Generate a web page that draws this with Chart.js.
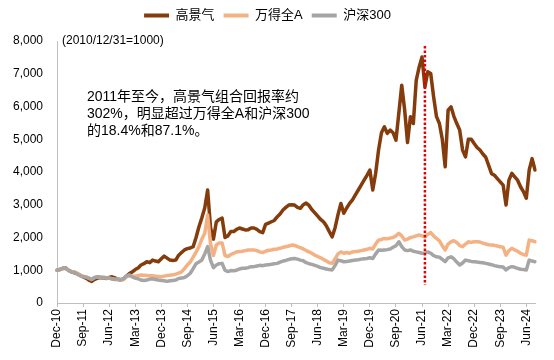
<!DOCTYPE html>
<html><head><meta charset="utf-8">
<script src="https://cdn.jsdelivr.net/npm/chart.js@4/dist/chart.umd.min.js"></script>
<style>html,body{margin:0;padding:0;background:#fff}#wrap{width:554px;height:360px}</style>
</head><body><div id="wrap"><canvas id="c" width="554" height="360"></canvas></div>
<script>
// Monthly categories, Dec-10 .. Sep-24
const MONTH_NAMES = ['Jan','Feb','Mar','Apr','May','Jun','Jul','Aug','Sep','Oct','Nov','Dec'];
const firstYear = 2010, firstMonthIdx = 11, monthCount = 166;
const categories = [];
for (let i = 0; i < monthCount; i++) {
  const k = firstMonthIdx + i;
  categories.push(MONTH_NAMES[k % 12] + '-' + String((firstYear + Math.floor(k / 12)) % 100).padStart(2, '0'));
}
const tickLabels = ['Dec-10','Sep-11','Jun-12','Mar-13','Dec-13','Sep-14','Jun-15','Mar-16','Dec-16','Sep-17','Jun-18','Mar-19','Dec-19','Sep-20','Jun-21','Mar-22','Dec-22','Sep-23','Jun-24'];
const seriesNames = ['高景气','万得全A','沪深300'];

const highProsperity = [
 1000,
 1020,1060,1070,1000,950,920,900,850,800,760,700,660,
 720,760,780,760,750,780,800,770,720,700,740,820,
 900,950,1020,1070,1160,1200,1260,1230,1310,1280,1260,1350,
 1430,1370,1310,1300,1310,1460,1540,1620,1660,1680,1720,2000,
 2330,2600,2900,3450,2300,1950,2480,2550,2590,2000,2050,2180,
 2180,2250,2290,2260,2230,2240,2290,2290,2250,2180,2150,2400,
 2440,2480,2520,2630,2720,2840,2920,2990,3000,2990,2920,2890,
 3000,3050,2980,2850,2750,2650,2550,2480,2350,2180,2020,2300,
 2700,3040,2740,2900,3040,3150,3300,3450,3600,3750,3900,4060,
 3450,3960,4670,5200,5380,5180,5280,5200,4970,5800,6650,5900,
 4900,5690,5480,6800,7200,7510,6600,7060,7010,6300,5690,5480,
 5000,4160,5890,5990,5700,5480,5280,4670,4460,5000,5000,4870,
 4750,4670,4550,4450,4200,3950,3900,3800,3700,3600,2990,3750,
 3960,3850,3750,3550,3400,3200,4060,4410,4060
];
const windAllA = [
 1000,
 1020,1060,1060,1000,960,950,900,850,820,800,760,720,
 780,800,790,770,760,760,740,720,720,700,720,800,
 830,820,820,840,855,850,840,830,830,820,810,800,
 820,840,850,860,880,910,950,1050,1160,1250,1400,1550,
 1720,1950,2130,2690,1800,1450,1770,1830,1830,1450,1420,1480,
 1520,1560,1570,1580,1600,1620,1620,1620,1600,1560,1540,1580,
 1610,1620,1640,1650,1670,1700,1720,1740,1770,1760,1720,1690,
 1650,1600,1560,1520,1460,1420,1380,1330,1280,1230,1210,1350,
 1500,1560,1520,1540,1520,1560,1570,1580,1600,1620,1640,1670,
 1650,1800,1920,1940,1970,1960,1980,2000,2050,2130,2050,1920,
 1950,2000,2020,2050,2080,2050,2020,2100,2150,2050,1970,1900,
 1750,1620,1800,1870,1900,1850,1750,1720,1800,1870,1850,1870,
 1870,1860,1830,1800,1780,1770,1760,1740,1720,1700,1460,1600,
 1670,1620,1580,1520,1480,1460,1920,1900,1870
];
const csi300 = [
 1000,
 1030,1060,1050,990,950,940,880,830,800,790,760,720,
 780,800,790,790,770,760,730,720,740,720,740,830,
 860,800,760,740,700,690,700,730,740,720,700,690,
 680,660,680,690,700,750,760,780,830,910,1050,1200,
 1250,1310,1500,1720,1300,1080,1160,1200,1210,1000,960,990,
 985,1000,1040,1060,1060,1080,1110,1110,1130,1150,1140,1160,
 1170,1180,1200,1210,1250,1280,1300,1330,1350,1360,1340,1310,
 1290,1230,1200,1180,1150,1120,1080,1060,1040,1020,1010,1150,
 1310,1290,1260,1270,1280,1300,1310,1320,1340,1350,1360,1380,
 1360,1500,1620,1610,1620,1630,1650,1700,1750,1870,1720,1620,
 1600,1620,1580,1560,1540,1520,1530,1560,1520,1450,1410,1400,
 1330,1260,1380,1410,1350,1250,1160,1220,1310,1290,1270,1260,
 1250,1240,1230,1210,1190,1170,1140,1120,1110,1100,1010,1080,
 1110,1090,1060,1030,1020,1010,1310,1280,1260
];
const yMin = 0, yMax = 8000, yStep = 1000;
const baseNote = '(2010/12/31=1000)';
const noteLines = ['2011年至今，高景气组合回报率约','302%，明显超过万得全A和沪深300','的18.4%和87.1%。'];
const markerMonth = 'Jul-21';
const markerTopValue = 7850, markerBottomValue = 550;

const colors = ['#843C0C', '#F4B183', '#A5A5A5'];
const FONT = "'Liberation Sans', Arial, 'Noto Sans CJK SC', sans-serif";
Chart.defaults.font.family = FONT;
Chart.defaults.color = '#000';

const annotate = {
  id: 'annotate',
  afterDatasetsDraw(chart) {
    const {ctx, chartArea, scales: {x, y}} = chart;
    ctx.save();
    // red dotted marker
    const mx = x.getPixelForValue(categories.indexOf(markerMonth));
    ctx.strokeStyle = '#E60000';
    ctx.lineWidth = 2.5;
    ctx.setLineDash([2.5, 2]);
    ctx.beginPath();
    ctx.moveTo(mx, y.getPixelForValue(markerTopValue));
    ctx.lineTo(mx, y.getPixelForValue(markerBottomValue));
    ctx.stroke();
    ctx.setLineDash([]);
    // notes
    ctx.fillStyle = '#000';
    ctx.textBaseline = 'middle';
    ctx.textAlign = 'left';
    ctx.font = '12px ' + FONT;
    ctx.fillText(baseNote, chartArea.left + 5, y.getPixelForValue(yMax));
    ctx.font = '14px ' + FONT;
    noteLines.forEach((t, i) => ctx.fillText(t, chartArea.left + 30, chartArea.top + 56 + i * 17));
    ctx.restore();
  }
};

new Chart(document.getElementById('c'), {
  type: 'line',
  data: {
    labels: categories,
    datasets: [
      {label: seriesNames[0], data: highProsperity, borderColor: colors[0], backgroundColor: colors[0], order: 3},
      {label: seriesNames[1], data: windAllA, borderColor: colors[1], backgroundColor: colors[1], order: 2},
      {label: seriesNames[2], data: csi300, borderColor: colors[2], backgroundColor: colors[2], order: 1}
    ]
  },
  options: {
    responsive: false,
    animation: false,
    devicePixelRatio: 1,
    elements: {
      point: {radius: 0, hoverRadius: 0},
      line: {borderWidth: 3.5, tension: 0, borderJoinStyle: 'round', borderCapStyle: 'round'}
    },
    layout: {padding: {top: 0, left: 0, right: 19, bottom: 0}},
    plugins: {
      legend: {
        position: 'top',
        labels: {
          boxWidth: 25, boxHeight: 4, padding: 9,
          font: {size: 13},
          color: '#000',
          sort: (a, b) => a.datasetIndex - b.datasetIndex,
          generateLabels(chart) {
            return chart.data.datasets.map((d, i) => ({
              text: d.label, fillStyle: d.borderColor, strokeStyle: d.borderColor,
              lineWidth: 0, hidden: false, datasetIndex: i, fontColor: '#000'
            }));
          }
        }
      },
      subtitle: {display: true, text: '', weight: 500, padding: 0, font: {size: 9, lineHeight: 1}},
      title: {display: false},
      tooltip: {enabled: false}
    },
    scales: {
      x: {
        type: 'category',
        offset: false,
        grid: {display: true, drawOnChartArea: false, drawTicks: true, tickLength: 4, color: '#BFBFBF'},
        border: {display: true, color: '#BFBFBF', width: 1},
        ticks: {
          autoSkip: false, maxRotation: 90, minRotation: 90, padding: 2,
          font: {size: 12}, color: '#000',
          callback(v, i) { return tickLabels.includes(categories[i]) ? categories[i] : null; }
        },
        afterFit(scale) { scale.height = 57; }
      },
      y: {
        min: yMin, max: yMax,
        grid: {display: false, drawTicks: false},
        border: {display: true, color: '#BFBFBF', width: 1},
        ticks: {
          stepSize: yStep, padding: 14, font: {size: 12}, color: '#000',
          callback(v) { return v.toLocaleString('en-US'); }
        },
        afterFit(scale) { scale.width = 57; }
      }
    }
  },
  plugins: [annotate]
});
</script>
</body></html>
